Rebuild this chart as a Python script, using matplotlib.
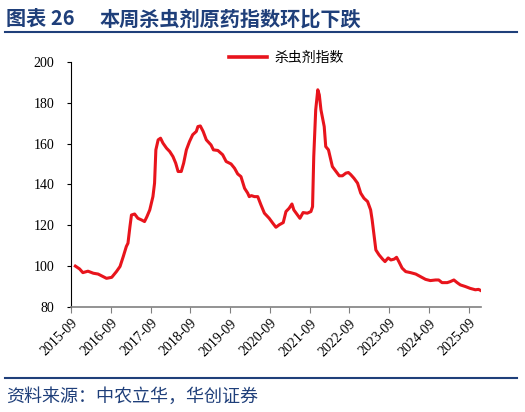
import numpy as np
import pandas as pd
import matplotlib
matplotlib.use("Agg")
import matplotlib.pyplot as plt
import matplotlib.dates as mdates
from matplotlib.lines import Line2D

# 杀虫剂原药指数
dates = [
    "2015-10-12", "2015-11-20", "2015-12-20", "2016-02-05", "2016-03-25", "2016-05-08",
    "2016-06-25", "2016-07-24", "2016-09-10", "2016-10-23", "2016-11-25", "2016-12-25",
    "2017-01-22", "2017-02-06", "2017-02-24", "2017-03-10", "2017-04-08", "2017-05-08",
    "2017-06-10", "2017-07-08", "2017-07-30", "2017-08-25", "2017-09-23", "2017-10-08",
    "2017-10-20", "2017-11-10", "2017-12-02", "2017-12-24", "2018-01-26", "2018-02-24",
    "2018-03-26", "2018-04-20", "2018-05-12", "2018-06-10", "2018-07-02", "2018-07-27",
    "2018-08-25", "2018-09-23", "2018-10-26", "2018-11-10", "2018-12-02", "2018-12-28",
    "2019-01-26", "2019-03-10", "2019-04-01", "2019-05-12", "2019-06-25", "2019-07-27",
    "2019-09-10", "2019-10-12", "2019-11-10", "2019-12-10", "2020-01-12", "2020-02-10",
    "2020-02-24", "2020-03-14", "2020-04-12", "2020-05-12", "2020-06-10", "2020-07-12",
    "2020-08-25", "2020-09-27", "2020-10-26", "2020-11-25", "2021-01-01", "2021-01-26",
    "2021-02-24", "2021-03-22", "2021-04-08", "2021-05-12", "2021-06-03", "2021-07-02",
    "2021-08-10", "2021-09-12", "2021-09-27", "2021-10-08", "2021-10-26", "2021-11-14",
    "2021-11-28", "2021-12-13", "2021-12-28", "2022-01-12", "2022-01-26", "2022-02-20",
    "2022-03-14", "2022-03-28", "2022-05-01", "2022-05-30", "2022-06-28", "2022-07-30",
    "2022-08-22", "2022-09-12", "2022-10-12", "2022-11-14", "2022-12-13", "2023-01-12",
    "2023-02-14", "2023-03-14", "2023-03-28", "2023-04-16", "2023-05-01", "2023-05-30",
    "2023-07-02", "2023-07-24", "2023-08-22", "2023-09-16", "2023-10-16", "2023-11-07",
    "2023-11-28", "2023-12-28", "2024-01-30", "2024-03-14", "2024-05-01", "2024-06-14",
    "2024-07-30", "2024-09-12", "2024-10-30", "2024-11-28", "2024-12-28", "2025-02-14",
    "2025-03-14", "2025-04-16", "2025-05-16", "2025-06-14", "2025-07-30", "2025-09-12",
    "2025-10-30", "2025-11-28", "2025-12-20",
]
index_vals = [
    100.0, 98.6, 96.8, 97.5, 96.5, 96.1,
    94.8, 94.0, 94.5, 97.3, 99.8, 104.7,
    109.6, 111.2, 119.3, 125.0, 125.5, 123.4,
    122.6, 121.8, 124.2, 127.5, 134.0, 140.6,
    156.9, 161.8, 162.6, 160.2, 157.7, 156.1,
    153.6, 150.4, 146.3, 146.3, 150.4, 156.9,
    161.0, 164.3, 165.9, 168.3, 168.6, 165.9,
    161.8, 159.3, 156.9, 156.6, 154.5, 151.2,
    150.0, 147.9, 145.1, 143.8, 138.1, 135.7,
    134.0, 134.5, 134.0, 134.0, 130.0, 125.9,
    123.4, 121.0, 119.0, 120.2, 121.3, 126.7,
    128.3, 130.4, 127.5, 125.0, 123.4, 126.2,
    125.9, 126.7, 129.1, 153.6, 176.5, 186.3,
    183.8, 176.5, 172.4, 168.3, 158.5, 156.9,
    152.0, 148.7, 146.3, 144.2, 144.2, 145.5,
    145.8, 144.8, 143.0, 140.6, 135.7, 133.2,
    131.6, 127.5, 122.6, 114.5, 107.9, 105.5,
    103.4, 102.2, 104.0, 103.0, 103.4, 104.3,
    102.2, 99.0, 97.3, 96.8, 96.1, 94.8,
    93.5, 92.9, 93.2, 93.2, 91.9, 91.9,
    92.4, 93.2, 91.9, 90.8, 90.0, 89.1,
    88.4, 88.6, 88.0,
]
tick_dates = ["%d-09-01" % y for y in range(2015, 2026)]
yticks = [80, 100, 120, 140, 160, 180, 200]

title_tag = "图表 26"
title_text = "本周杀虫剂原药指数环比下跌"
source = "资料来源：中农立华，华创证券"
series_name = "杀虫剂指数"

cjk = ["Noto Sans CJK SC", "DejaVu Sans"]
plt.rcParams["font.family"] = ["Liberation Serif", "DejaVu Serif"]
navy = "#1f3f7a"
red = "#e8141c"

x = pd.to_datetime(dates)

fig = plt.figure(figsize=(5.25, 4.12), dpi=100)
ax = fig.add_axes([0.135, 0.255, 0.781, 0.595])

ax.plot(x, index_vals, color=red, lw=2.2, solid_joinstyle="round")

ax.set_ylim(80, 200)
ax.set_yticks(yticks)
ax.set_xlim(pd.Timestamp("2015-09-01"), x[-1])
ax.set_xticks(pd.to_datetime(tick_dates))
ax.xaxis.set_major_formatter(mdates.DateFormatter("%Y-%m"))

for s in ["top", "right"]:
    ax.spines[s].set_visible(False)
ax.spines["left"].set_color("black")
ax.spines["bottom"].set_color("#808080")
ax.spines["bottom"].set_linewidth(1.2)
ax.tick_params(axis="y", direction="out", length=3, color="black", labelsize=10, pad=9)
ax.tick_params(axis="x", direction="out", length=4, color="#808080", labelsize=10, pad=3)
for lab in ax.get_xticklabels():
    lab.set_rotation(45)
    lab.set_ha("right")
    lab.set_rotation_mode("anchor")

handle = Line2D([], [], color=red, lw=2.6)
ax.legend([handle], [series_name], loc="center", bbox_to_anchor=(0.525, 1.015),
          frameon=False, prop={"family": cjk, "size": 10}, handlelength=2.8,
          handletextpad=0.5)

# header and footer
fig.text(0.012, 0.955, title_tag, fontsize=14.5, fontweight="bold", color=navy,
         family=cjk, va="center")
fig.text(0.19, 0.955, title_text, fontsize=14.5, fontweight="bold", color=navy,
         family=cjk, va="center")
fig.add_artist(Line2D([0.01, 0.985], [0.922, 0.922], color=navy, lw=1.5))
fig.add_artist(Line2D([0.01, 0.985], [0.083, 0.083], color=navy, lw=1.5))
fig.text(0.012, 0.036, source, fontsize=13, color=navy, family=cjk,
         va="center", style="italic")

fig.savefig("out.png", dpi=100)
